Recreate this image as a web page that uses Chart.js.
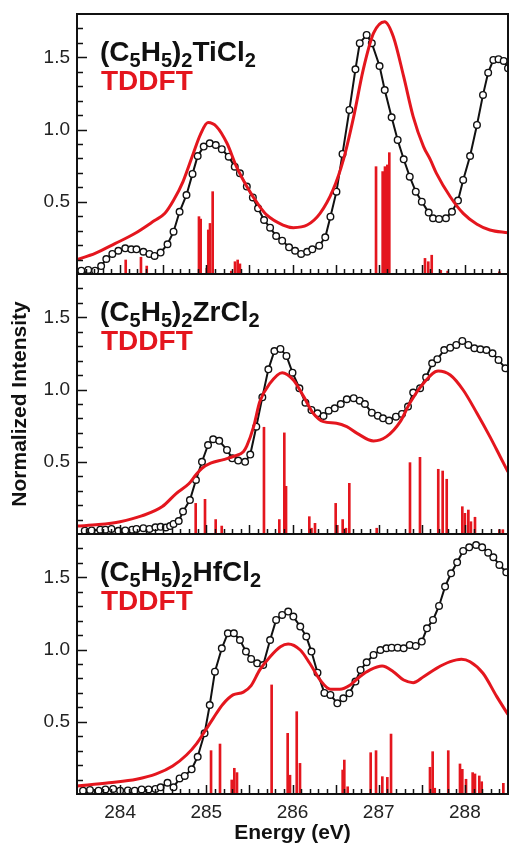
<!DOCTYPE html>
<html>
<head>
<meta charset="utf-8">
<script src="https://cdn.jsdelivr.net/npm/chart.js@4.4.1/dist/chart.umd.min.js"></script>
<style>
  body { margin: 0; background: #fff; }
  #wrap { position: relative; width: 510px; height: 844px; }
  canvas { position: absolute; left: 0; }
</style>
</head>
<body>
<div id="wrap">
  <canvas id="ti" width="510" height="274" style="top:0px"></canvas>
  <canvas id="zr" width="510" height="260" style="top:274px"></canvas>
  <canvas id="hf" width="510" height="310" style="top:534px"></canvas>
</div>
<script>
// axis labels
var xTickLabels = [284, 285, 286, 287, 288];
var yTickLabels = [0.5, 1.0, 1.5];

// (C5H5)2TiCl2
var tiExpE = [283.55, 283.63, 283.71, 283.78, 283.84, 283.91, 283.98, 284.06, 284.13, 284.19, 284.27, 284.34, 284.40, 284.47, 284.55, 284.62, 284.69, 284.77, 284.84, 284.90, 284.97, 285.04, 285.11, 285.18, 285.26, 285.33, 285.39, 285.47, 285.54, 285.60, 285.67, 285.74, 285.81, 285.88, 285.96, 286.03, 286.10, 286.17, 286.23, 286.31, 286.38, 286.44, 286.51, 286.58, 286.66, 286.73, 286.78, 286.86, 286.92, 287.01, 287.07, 287.15, 287.22, 287.29, 287.36, 287.43, 287.50, 287.58, 287.63, 287.70, 287.78, 287.85, 287.92, 287.98, 288.06, 288.14, 288.21, 288.27, 288.33, 288.39, 288.45, 288.50];
var tiExpI = [0.023, 0.028, 0.023, 0.055, 0.104, 0.139, 0.161, 0.178, 0.171, 0.171, 0.154, 0.139, 0.125, 0.148, 0.206, 0.293, 0.431, 0.547, 0.693, 0.817, 0.882, 0.905, 0.893, 0.864, 0.812, 0.743, 0.697, 0.605, 0.53, 0.455, 0.374, 0.321, 0.263, 0.231, 0.185, 0.161, 0.139, 0.154, 0.171, 0.196, 0.254, 0.397, 0.570, 0.831, 1.136, 1.417, 1.598, 1.655, 1.598, 1.440, 1.274, 1.085, 0.928, 0.794, 0.674, 0.570, 0.501, 0.425, 0.386, 0.381, 0.386, 0.431, 0.508, 0.651, 0.817, 1.032, 1.240, 1.394, 1.482, 1.487, 1.475, 1.425];
var tiCalcE = [283.50, 283.71, 283.94, 284.17, 284.40, 284.52, 284.62, 284.73, 284.85, 284.93, 285.02, 285.12, 285.24, 285.35, 285.47, 285.62, 285.70, 285.89, 286.01, 286.17, 286.32, 286.47, 286.59, 286.71, 286.82, 286.94, 287.07, 287.17, 287.29, 287.40, 287.52, 287.60, 287.67, 287.83, 287.98, 288.14, 288.29, 288.50];
var tiCalcI = [0.10, 0.143, 0.21, 0.28, 0.37, 0.42, 0.51, 0.64, 0.836, 0.963, 1.048, 1.02, 0.905, 0.743, 0.605, 0.466, 0.409, 0.339, 0.321, 0.339, 0.42, 0.582, 0.79, 1.09, 1.413, 1.667, 1.747, 1.643, 1.366, 1.09, 0.882, 0.79, 0.697, 0.535, 0.42, 0.345, 0.305, 0.285];
var tiStickE = [284.065, 284.242, 284.309, 284.915, 284.935, 285.005, 285.023, 285.043, 285.074, 285.29, 285.333, 285.364, 285.39, 286.969, 287.046, 287.073, 287.10, 287.123, 287.537, 287.575, 287.615, 287.72, 287.80, 288.40];
var tiStickI = [0.097, 0.116, 0.055, 0.397, 0.38, 0.04, 0.305, 0.35, 0.57, 0.02, 0.085, 0.097, 0.07, 0.743, 0.709, 0.743, 0.755, 0.84, 0.108, 0.085, 0.13, 0.025, 0.02, 0.015];

// (C5H5)2ZrCl2
var zrExpE = [283.59, 283.67, 283.77, 283.83, 283.90, 283.98, 284.06, 284.14, 284.19, 284.27, 284.34, 284.41, 284.47, 284.53, 284.58, 284.62, 284.68, 284.73, 284.81, 284.88, 284.95, 285.02, 285.08, 285.15, 285.24, 285.30, 285.37, 285.45, 285.51, 285.58, 285.65, 285.72, 285.79, 285.86, 285.93, 286.00, 286.08, 286.15, 286.22, 286.29, 286.36, 286.42, 286.49, 286.56, 286.63, 286.71, 286.78, 286.84, 286.92, 286.99, 287.05, 287.12, 287.20, 287.27, 287.34, 287.40, 287.48, 287.55, 287.62, 287.68, 287.76, 287.83, 287.90, 287.97, 288.04, 288.11, 288.18, 288.25, 288.32, 288.39, 288.47];
var zrExpI = [0.023, 0.025, 0.03, 0.03, 0.035, 0.022, 0.025, 0.03, 0.035, 0.04, 0.035, 0.046, 0.05, 0.045, 0.055, 0.07, 0.09, 0.155, 0.235, 0.374, 0.50, 0.616, 0.656, 0.645, 0.582, 0.524, 0.508, 0.50, 0.55, 0.743, 0.946, 1.14, 1.267, 1.281, 1.233, 1.117, 1.009, 0.909, 0.859, 0.836, 0.817, 0.854, 0.870, 0.90, 0.933, 0.94, 0.923, 0.90, 0.84, 0.819, 0.801, 0.785, 0.812, 0.831, 0.882, 0.979, 1.009, 1.085, 1.182, 1.21, 1.274, 1.29, 1.309, 1.337, 1.309, 1.286, 1.279, 1.274, 1.251, 1.205, 1.147];
var zrCalcE = [283.50, 283.75, 284.00, 284.25, 284.49, 284.65, 284.80, 284.88, 284.95, 285.05, 285.20, 285.33, 285.43, 285.47, 285.55, 285.62, 285.74, 285.88, 286.01, 286.13, 286.24, 286.36, 286.51, 286.63, 286.75, 286.94, 287.09, 287.25, 287.36, 287.52, 287.69, 287.83, 287.98, 288.14, 288.29, 288.41, 288.50];
var zrCalcI = [0.055, 0.065, 0.085, 0.125, 0.19, 0.28, 0.35, 0.41, 0.455, 0.49, 0.515, 0.54, 0.57, 0.61, 0.745, 0.915, 1.044, 1.117, 1.066, 0.951, 0.836, 0.778, 0.767, 0.743, 0.697, 0.644, 0.674, 0.778, 0.905, 1.044, 1.129, 1.101, 0.997, 0.836, 0.674, 0.535, 0.43];
var zrStickE = [284.877, 284.985, 285.109, 285.179, 285.669, 285.847, 285.905, 285.925, 286.195, 286.22, 286.261, 286.501, 286.52, 286.582, 286.62, 286.659, 286.977, 287.363, 287.479, 287.691, 287.742, 287.789, 287.97, 288.00, 288.04, 288.07, 288.117, 288.40, 288.44];
var zrStickI = [0.212, 0.24, 0.10, 0.055, 0.739, 0.10, 0.70, 0.33, 0.12, 0.04, 0.074, 0.212, 0.06, 0.10, 0.04, 0.351, 0.04, 0.494, 0.531, 0.448, 0.436, 0.379, 0.189, 0.143, 0.166, 0.085, 0.116, 0.03, 0.03];

// (C5H5)2HfCl2
var hfExpE = [283.57, 283.65, 283.75, 283.83, 283.92, 284.00, 284.09, 284.17, 284.25, 284.33, 284.41, 284.47, 284.55, 284.62, 284.69, 284.75, 284.83, 284.90, 284.98, 285.04, 285.10, 285.18, 285.25, 285.32, 285.39, 285.46, 285.52, 285.59, 285.66, 285.74, 285.81, 285.88, 285.95, 286.01, 286.09, 286.16, 286.22, 286.29, 286.37, 286.44, 286.52, 286.59, 286.66, 286.73, 286.79, 286.86, 286.94, 287.02, 287.09, 287.15, 287.22, 287.29, 287.36, 287.43, 287.50, 287.56, 287.63, 287.70, 287.77, 287.84, 287.91, 287.98, 288.05, 288.13, 288.20, 288.27, 288.33, 288.40, 288.48];
var hfExpI = [0.023, 0.028, 0.023, 0.032, 0.035, 0.023, 0.025, 0.023, 0.032, 0.032, 0.035, 0.046, 0.078, 0.046, 0.108, 0.125, 0.171, 0.258, 0.42, 0.616, 0.847, 1.009, 1.113, 1.113, 1.066, 0.986, 0.935, 0.905, 0.893, 1.066, 1.205, 1.24, 1.263, 1.228, 1.159, 1.09, 0.986, 0.84, 0.70, 0.686, 0.628, 0.663, 0.697, 0.778, 0.859, 0.912, 0.963, 0.997, 1.009, 1.013, 1.013, 1.009, 1.032, 1.025, 1.055, 1.147, 1.205, 1.302, 1.436, 1.528, 1.604, 1.683, 1.708, 1.724, 1.708, 1.671, 1.639, 1.586, 1.535];
var hfCalcE = [283.50, 283.87, 284.19, 284.42, 284.61, 284.77, 284.89, 284.98, 285.08, 285.19, 285.31, 285.43, 285.52, 285.62, 285.74, 285.86, 285.95, 286.09, 286.20, 286.32, 286.44, 286.55, 286.67, 286.78, 286.90, 287.04, 287.17, 287.29, 287.40, 287.52, 287.67, 287.83, 287.96, 288.06, 288.21, 288.37, 288.50];
var hfCalcI = [0.055, 0.078, 0.102, 0.139, 0.194, 0.27, 0.351, 0.432, 0.524, 0.62, 0.686, 0.705, 0.75, 0.859, 0.951, 1.02, 1.039, 0.997, 0.905, 0.789, 0.725, 0.725, 0.755, 0.812, 0.859, 0.886, 0.847, 0.789, 0.771, 0.812, 0.87, 0.916, 0.933, 0.916, 0.836, 0.674, 0.55];
var hfStickE = [285.055, 285.159, 285.295, 285.325, 285.356, 285.758, 285.944, 285.971, 286.049, 286.087, 286.582, 286.601, 286.64, 286.907, 286.969, 287.042, 287.10, 287.143, 287.595, 287.626, 287.65, 287.807, 287.943, 287.97, 288.013, 288.09, 288.117, 288.167, 288.195, 288.446];
var hfStickI = [0.30, 0.346, 0.097, 0.178, 0.148, 0.755, 0.42, 0.13, 0.57, 0.212, 0.166, 0.235, 0.05, 0.286, 0.30, 0.12, 0.115, 0.415, 0.185, 0.293, 0.04, 0.30, 0.208, 0.171, 0.102, 0.148, 0.139, 0.125, 0.085, 0.074];

var RED = 'rgb(228, 22, 30)';
var FONT = '"Liberation Sans", Arial, Helvetica, sans-serif';
Chart.defaults.font.family = FONT;

function toPoints(xs, ys) {
    return xs.map((x, i) => ({ x: x, y: ys[i] }));
}

// inward ticks, frame and the formula / TDDFT labels
const panelDecor = {
    id: 'panelDecor',
    afterDatasetsDraw(chart, args, opts) {
        const ctx = chart.ctx;
        const a = chart.chartArea;
        const x = chart.scales.x, y = chart.scales.y;
        ctx.save();
        ctx.strokeStyle = '#111';
        ctx.lineWidth = 1.5;
        ctx.beginPath();
        for (let i = 1; i < 18; i++) {
            const len = i % 5 === 0 ? 10 : 6;
            const py = Math.round(y.getPixelForValue(i / 10)) + 0.5;
            ctx.moveTo(a.left, py);
            ctx.lineTo(a.left + len, py);
        }
        for (let i = 2836; i <= 2884; i++) {
            const len = i % 5 === 0 ? 9 : 5;
            const px = Math.round(x.getPixelForValue(i / 10)) + 0.5;
            ctx.moveTo(px, a.bottom);
            ctx.lineTo(px, a.bottom - len);
        }
        ctx.stroke();
        ctx.lineWidth = 2;
        ctx.strokeRect(a.left, a.top, a.right - a.left, a.bottom - a.top);

        // (C5H5)2MCl2 with subscripts
        const parts = [['(C', 0], ['5', 1], ['H', 0], ['5', 1], [')', 0], ['2', 1], [opts.metal + 'Cl', 0], ['2', 1]];
        let tx = a.left + 23;
        const base = a.top + 47;
        ctx.fillStyle = '#111';
        ctx.textBaseline = 'alphabetic';
        ctx.textAlign = 'left';
        for (const [t, sub] of parts) {
            ctx.font = sub ? 'bold 20px ' + FONT : 'bold 28px ' + FONT;
            ctx.fillText(t, tx, sub ? base + 6 : base);
            tx += ctx.measureText(t).width;
        }
        ctx.fillStyle = RED;
        ctx.font = 'bold 28px ' + FONT;
        ctx.fillText('TDDFT', a.left + 24, a.top + 76);
        ctx.restore();
    }
};

function makePanel(id, metal, expE, expI, calcE, calcI, stickE, stickI, showX, showYTitle, padTop) {
    return new Chart(document.getElementById(id), {
        type: 'line',
        data: {
            datasets: [{
                type: 'bar',
                data: toPoints(stickE, stickI),
                backgroundColor: RED,
                borderWidth: 0,
                barThickness: 2,
                order: 2
            }, {
                data: toPoints(expE, expI),
                borderColor: '#111',
                borderWidth: 2,
                pointRadius: 3.3,
                pointBackgroundColor: '#fff',
                pointBorderColor: '#111',
                pointBorderWidth: 1.4,
                tension: 0,
                order: 1
            }, {
                data: toPoints(calcE, calcI),
                borderColor: RED,
                borderWidth: 3,
                pointRadius: 0,
                cubicInterpolationMode: 'monotone',
                order: 0
            }]
        },
        options: {
            responsive: false,
            animation: false,
            events: [],
            layout: { autoPadding: false, padding: { top: padTop, right: 2, bottom: 0, left: 0 } },
            plugins: {
                legend: { display: false },
                tooltip: { enabled: false },
                panelDecor: { metal: metal }
            },
            scales: {
                x: {
                    type: 'linear',
                    min: 283.5,
                    max: 288.5,
                    offset: false,
                    display: showX,
                    afterBuildTicks: s => { s.ticks = xTickLabels.map(v => ({ value: v })); },
                    afterFit: s => {
                        s.height = showX ? 50 : 0;
                        s.paddingLeft = 0;
                        s.paddingRight = 0;
                    },
                    grid: { display: false, drawTicks: false },
                    border: { display: false },
                    ticks: { color: '#222', padding: 7, font: { size: 19 }, maxRotation: 0, autoSkip: false, callback: v => String(v) },
                    title: { display: true, text: 'Energy (eV)', color: '#111', font: { size: 21, weight: 'bold', lineHeight: 1 }, padding: 0 }
                },
                y: {
                    min: 0,
                    max: 1.8,
                    afterBuildTicks: s => { s.ticks = yTickLabels.map(v => ({ value: v })); },
                    afterFit: s => {
                        s.width = 77;
                        s.paddingTop = 0;
                        s.paddingBottom = 0;
                    },
                    grid: { display: false, drawTicks: false },
                    border: { display: false },
                    ticks: { color: '#222', padding: 7, font: { size: 19 }, callback: v => v.toFixed(1) },
                    title: { display: showYTitle, text: 'Normalized Intensity', color: '#111', font: { size: 21, weight: 'bold' }, padding: { top: 8, bottom: 0 } }
                }
            }
        },
        plugins: [panelDecor]
    });
}

makePanel('ti', 'Ti', tiExpE, tiExpI, tiCalcE, tiCalcI, tiStickE, tiStickI, false, false, 14);
makePanel('zr', 'Zr', zrExpE, zrExpI, zrCalcE, zrCalcI, zrStickE, zrStickI, false, true, 0);
makePanel('hf', 'Hf', hfExpE, hfExpI, hfCalcE, hfCalcI, hfStickE, hfStickI, true, false, 0);
</script>
</body>
</html>
